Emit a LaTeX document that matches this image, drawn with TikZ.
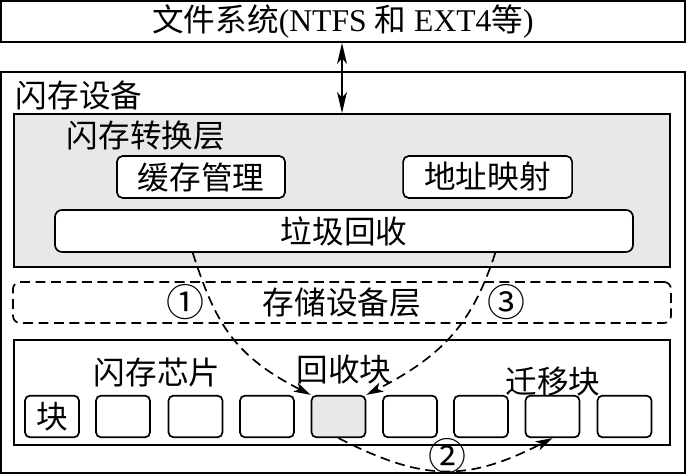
\documentclass[tikz,border=0pt]{standalone}
\usepackage{fontspec}
\setmainfont{Liberation Serif}
\newfontfamily\cjk{Noto Sans CJK SC}
\usetikzlibrary{positioning, calc, arrows.meta}
\tikzset{every picture/.append style={line width=1.2pt}}

\begin{document}
\begin{tikzpicture}[
    big/.style={font=\fontsize{22.5}{26}\selectfont},
    cn/.style={font=\cjk\fontsize{22.5}{26}\selectfont, inner sep=0pt},
    num/.style={font=\cjk\fontsize{27}{30}\selectfont, inner sep=0pt},
    frame/.style={draw, inner sep=0pt},
    unit/.style={draw, fill=white, rounded corners=4pt, inner sep=0pt, minimum height=1.05cm, font=\cjk\fontsize{22.5}{26}\selectfont},
    blk/.style={draw, fill=white, rounded corners=3.5pt, inner sep=0pt, minimum width=1.35cm, minimum height=1.04cm, font=\cjk\fontsize{22.5}{26}\selectfont},
    flow/.style={dash pattern=on 7pt off 4pt, -{Stealth[length=12pt, width=7pt, inset=3pt]}},
  ]
  \useasboundingbox (0,0) rectangle (17.175,11.9);

  % File system
  \node[frame, big, minimum width=17.1cm, minimum height=1.025cm] (fs) at (8.575,11.3625)
    {{\cjk 文件系统}(NTFS {\cjk 和} EXT4{\cjk 等})};

  % Flash device
  \node[frame, minimum width=17.1cm, minimum height=10.025cm] (dev) at (8.575,5.0875) {};
  \node[cn, anchor=west] (devlbl) at (0.375,9.525) {闪存设备};

  % Flash translation layer
  \node[frame, fill=gray!18, minimum width=16.4cm, minimum height=3.825cm] (ftl) at (8.55,7.1375) {};
  \node[cn, anchor=west] (ftllbl) at (1.65,8.5) {闪存转换层};
  \node[unit, minimum width=4.2cm] (cache) at (5.025,7.475) {缓存管理};
  \node[unit, minimum width=4.225cm] (map) at (12.19,7.475) {地址映射};
  \node[unit, rounded corners=5pt, minimum width=14.45cm] (gc) at (8.6,6.125) {垃圾回收};

  % Arrow between file system and device
  \draw[{Stealth[length=15pt, width=7pt, inset=4pt]}-{Stealth[length=15pt, width=7pt, inset=4pt]}]
    (fs.south -| ftl.north) -- (ftl.north);

  % Storage device layer
  \node[draw, dash pattern=on 7pt off 4pt, rounded corners=5pt, inner sep=0pt, minimum width=16.45cm, minimum height=1.025cm,
    font=\cjk\fontsize{22.5}{26}\selectfont] (sdl) at (8.55,4.3375) {存储设备层};

  % Flash chip
  \node[frame, minimum width=16.4cm, minimum height=2.625cm] (chip) at (8.55,2.0875) {};
  \node[cn] (chiplbl) at (3.925,2.5875) {闪存芯片};

  % Blocks
  \node[blk] (b1) at (1.3,1.4875) {块};
  \node[blk] (b2) at (3.075,1.4875) {};
  \node[blk] (b3) at (4.8875,1.4875) {};
  \node[blk] (b4) at (6.675,1.4875) {};
  \node[blk, fill=gray!18] (rb) at (8.4625,1.4875) {};
  \node[blk] (b6) at (10.25,1.4875) {};
  \node[blk] (b7) at (12.025,1.4875) {};
  \node[blk] (mb) at (13.8125,1.4875) {};
  \node[blk] (b9) at (15.6125,1.4875) {};
  \node[cn] (rblbl) at (8.6,2.65) {回收块};
  \node[cn] (mblbl) at (13.825,2.3625) {迁移块};

  % Garbage collection steps
  \draw[flow] ($(gc.south west)!0.239!(gc.south east)$) .. controls +(-72:1.8) and +(153:2.2) .. (rb.north west);
  \draw[flow] ($(gc.south west)!0.761!(gc.south east)$) .. controls +(-108:1.8) and +(27:2.2) .. (rb.north east);
  \draw[flow] (rb.south) .. controls +(-27:2.4) and +(207:2.4) .. (mb.south);
  \node[num] (s1) at (4.625,4.3375) {①};
  \node[num] (s2) at (11.175,0.5) {②};
  \node[num] (s3) at (12.65,4.3375) {③};
\end{tikzpicture}
\end{document}
